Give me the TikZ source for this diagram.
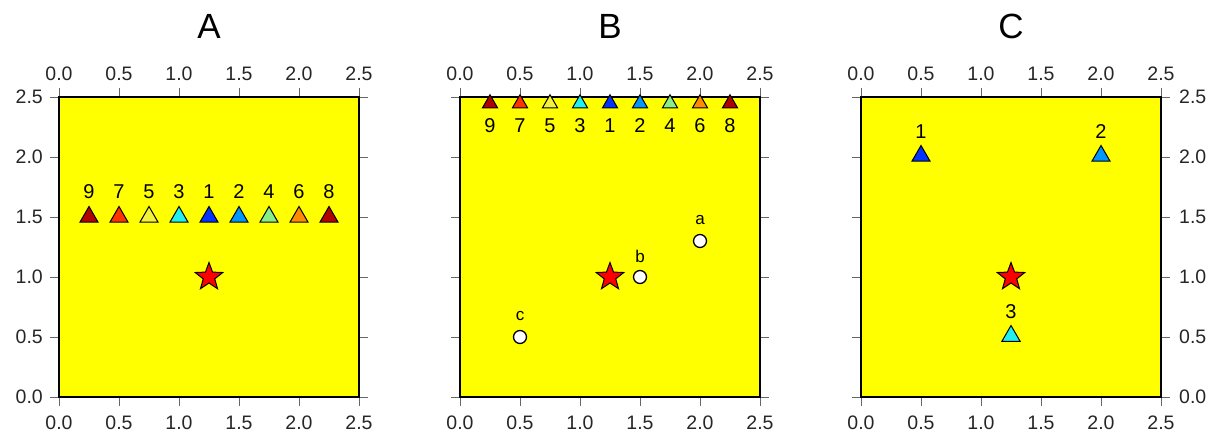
\documentclass[tikz,border=0pt]{standalone}
\usepackage{fontspec}
\setmainfont{Liberation Sans}
\usetikzlibrary{shapes.geometric}
\definecolor{bg}{HTML}{FFFF00}
\definecolor{cA}{HTML}{0033FF}
\definecolor{cB}{HTML}{0095FF}
\definecolor{cC}{HTML}{22F0F0}
\definecolor{cD}{HTML}{88EE88}
\definecolor{cE}{HTML}{F2F23C}
\definecolor{cF}{HTML}{FF8C00}
\definecolor{cG}{HTML}{FF3300}
\definecolor{cH}{HTML}{B00000}
\definecolor{cI}{HTML}{B00000}
\begin{document}
\begin{tikzpicture}[x=1pt,y=1pt,
  frame/.style={draw=black,line width=2.9pt,fill=bg},
  tickline/.style={draw=black!60,line width=0.8pt},
  ticklabel/.style={font=\fontsize{19.5}{19.5}\selectfont,text=black!85,inner sep=0pt},
  title/.style={font=\fontsize{35}{35}\selectfont,inner sep=0pt},
  tri/.style={regular polygon,regular polygon sides=3,minimum size=21pt,inner sep=0pt,draw=black,line width=1pt},
  smalltri/.style={tri,minimum size=17.5pt},
  numlabel/.style={font=\fontsize{20}{20}\selectfont,inner sep=0pt},
  letlabel/.style={font=\fontsize{17}{17}\selectfont,inner sep=0pt},
  ring/.style={circle,draw=black,line width=1.3pt,fill=white,minimum size=13pt,inner sep=0pt},
  epi/.style={star,star points=5,star point ratio=2.4,minimum size=29pt,inner sep=0pt,fill=red,draw=black,line width=1pt}
]
\useasboundingbox (0,0) rectangle (1217,434);
% frames, ticks and tick labels
\foreach \ox/\nm/\ttl in {59/A/A,460/B/B,861/C/C}{
  \foreach \i in {0,...,5}{
    \draw[tickline] (\ox+60*\i,37) -- (\ox+60*\i,28);
    \draw[tickline] (\ox+60*\i,337) -- (\ox+60*\i,346);
    \draw[tickline] (\ox,37+60*\i) -- (\ox-9,37+60*\i);
    \draw[tickline] (\ox+300,37+60*\i) -- (\ox+309,37+60*\i);
  }
  \draw[frame] (\ox,37) rectangle (\ox+300,337);
  \foreach \i/\t in {0/0.0,1/0.5,2/1.0,3/1.5,4/2.0,5/2.5}{
    \node[ticklabel] (top\nm\i) at (\ox+60*\i,360.5) {\t};
    \node[ticklabel] (bot\nm\i) at (\ox+60*\i,11.5) {\t};
  }
  \node[title] (title\nm) at (\ox+150,408) {\ttl};
  \node[epi] (star\nm) at (\ox+150,157) {};
}
% y labels: left of A, right of C
\foreach \i/\t in {0/0.0,1/0.5,2/1.0,3/1.5,4/2.0,5/2.5}{
  \node[ticklabel,anchor=east] (leftA\i) at (43,37+60*\i) {\t};
  \node[ticklabel,anchor=west] (rightC\i) at (1179,37+60*\i) {\t};
}
% Panel A triangles
\foreach \k/\n/\c in {1/9/cI,2/7/cG,3/5/cE,4/3/cC,5/1/cA,6/2/cB,7/4/cD,8/6/cF,9/8/cH}{
  \node[tri,fill=\c] (ta\n) at (59+30*\k,217) {};
  \node[numlabel] (la\n) at (59+30*\k,242) {\n};
}
% Panel B triangles at top edge
\foreach \k/\n/\c in {1/9/cI,2/7/cG,3/5/cE,4/3/cC,5/1/cA,6/2/cB,7/4/cD,8/6/cF,9/8/cH}{
  \node[smalltri,fill=\c] (tb\n) at (460+30*\k,330.5) {};
  \node[numlabel] (lb\n) at (460+30*\k,308) {\n};
}
% Panel B circles
\node[ring] (pa) at (700,193) {};
\node[letlabel] (qa) at (700,214) {a};
\node[ring] (pb) at (640,157) {};
\node[letlabel] (qb) at (640,178) {b};
\node[ring] (pc) at (520,97) {};
\node[letlabel] (qc) at (520,118) {c};
% Panel C triangles
\node[tri,fill=cA] (tc1) at (921,278) {};
\node[numlabel] (lc1) at (921,302) {1};
\node[tri,fill=cB] (tc2) at (1101,278) {};
\node[numlabel] (lc2) at (1101,302) {2};
\node[tri,fill=cC] (tc3) at (1011,98) {};
\node[numlabel] (lc3) at (1011,122) {3};
\end{tikzpicture}
\end{document}
